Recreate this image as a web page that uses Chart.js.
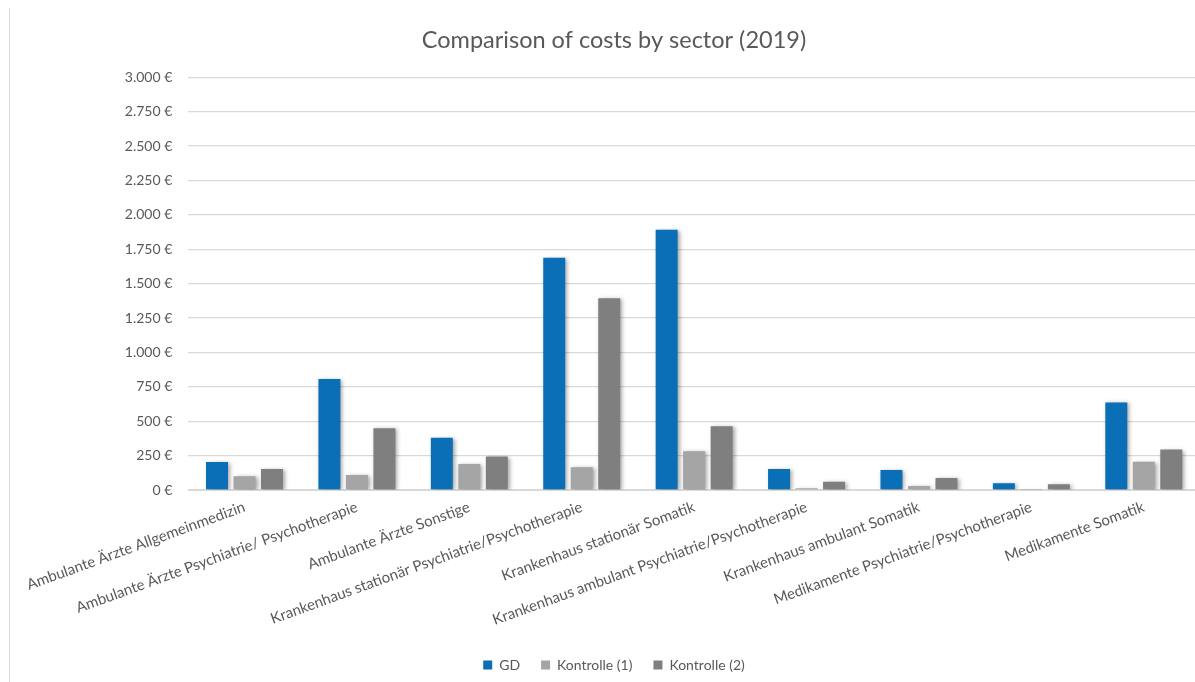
<!DOCTYPE html>
<html>
<head>
<meta charset="utf-8">
<script src="https://cdn.jsdelivr.net/npm/chart.js@4/dist/chart.umd.min.js"></script>
<style>
  html, body { margin: 0; padding: 0; background: #fff; overflow: hidden; width: 1195px; height: 682px; }
  #frame { position: absolute; left: 9px; top: 8px; width: 1px; height: 674px; background: #d9d9d9; }
  #wrap { position: absolute; left: 10px; top: 0; width: 1215px; height: 682px; }
</style>
</head>
<body>
<div id="frame"></div>
<div id="wrap"><canvas id="c" width="1215" height="682"></canvas></div>
<script>
const categories = [
  "Ambulante Ärzte Allgemeinmedizin",
  "Ambulante Ärzte Psychiatrie/ Psychotherapie",
  "Ambulante Ärzte Sonstige",
  "Krankenhaus stationär Psychiatrie/Psychotherapie",
  "Krankenhaus stationär Somatik",
  "Krankenhaus ambulant Psychiatrie/Psychotherapie",
  "Krankenhaus ambulant Somatik",
  "Medikamente Psychiatrie/Psychotherapie",
  "Medikamente Somatik"
];
const seriesNames = ["GD", "Kontrolle (1)", "Kontrolle (2)"];
const gdValues = [204, 806, 379, 1687, 1891, 153, 146, 49, 636];
const kontrolle1Values = [100, 109, 189, 165, 282, 12, 29, 2, 206];
const kontrolle2Values = [153, 449, 243, 1393, 464, 60, 87, 42, 294];
const yTicks = [0, 250, 500, 750, 1000, 1250, 1500, 1750, 2000, 2250, 2500, 2750, 3000];
const chartTitle = "Comparison of costs by sector (2019)";

const FONT = "Lato, 'Liberation Sans', sans-serif";
const TXT = "#595959";

function euro(v) {
  const s = String(Math.round(v)).replace(/\B(?=(\d{3})+(?!\d))/g, ".");
  return s + " €";
}

const shadowPlugin = {
  id: "barShadow",
  beforeDatasetsDraw(chart) {
    const ctx = chart.ctx;
    ctx.save();
    ctx.shadowColor = "rgba(0,0,0,0.35)";
    ctx.shadowBlur = 4;
    ctx.shadowOffsetX = 2;
    ctx.shadowOffsetY = 1;
  },
  afterDatasetsDraw(chart) {
    chart.ctx.restore();
  }
};

new Chart(document.getElementById("c"), {
  type: "bar",
  data: {
    labels: categories,
    datasets: [
      { label: seriesNames[0], data: gdValues, backgroundColor: "#0B6FB7" },
      { label: seriesNames[1], data: kontrolle1Values, backgroundColor: "#A5A5A5" },
      { label: seriesNames[2], data: kontrolle2Values, backgroundColor: "#7F7F7F" }
    ]
  },
  options: {
    responsive: false,
    devicePixelRatio: 1,
    animation: false,
    datasets: { bar: { categoryPercentage: 0.734, barPercentage: 0.8 } },
    layout: { padding: { left: 18, right: 25, top: 0, bottom: 0 } },
    plugins: {
      title: {
        display: true,
        text: chartTitle,
        color: TXT,
        font: { family: FONT, size: 23.5, weight: "normal" },
        padding: { top: 26, bottom: 23 }
      },
      legend: {
        position: "bottom",
        labels: {
          color: TXT,
          font: { family: FONT, size: 14 },
          boxWidth: 9,
          boxHeight: 9,
          padding: 21
        }
      },
      tooltip: { enabled: false }
    },
    scales: {
      x: {
        grid: { display: false, drawTicks: false },
        border: { display: true, color: "#D9D9D9" },
        ticks: {
          color: TXT,
          font: { family: FONT, size: 15 },
          minRotation: 20,
          maxRotation: 20,
          autoSkip: false,
          padding: 8
        },
        afterFit(scale) {
          scale.paddingLeft = 0;
          scale.paddingRight = 0;
          scale.height = 147;
        }
      },
      y: {
        min: 0,
        max: 3000,
        afterBuildTicks(scale) {
          scale.ticks = yTicks.map(v => ({ value: v }));
        },
        grid: { color: "#D9D9D9", lineWidth: 1.3, drawTicks: false },
        border: { display: false },
        ticks: {
          color: TXT,
          font: { family: FONT, size: 14 },
          padding: 16,
          callback: (v) => euro(v)
        },
        afterFit(scale) {
          scale.width = 160.3;
        }
      }
    }
  },
  plugins: [shadowPlugin]
});
</script>
</body>
</html>
